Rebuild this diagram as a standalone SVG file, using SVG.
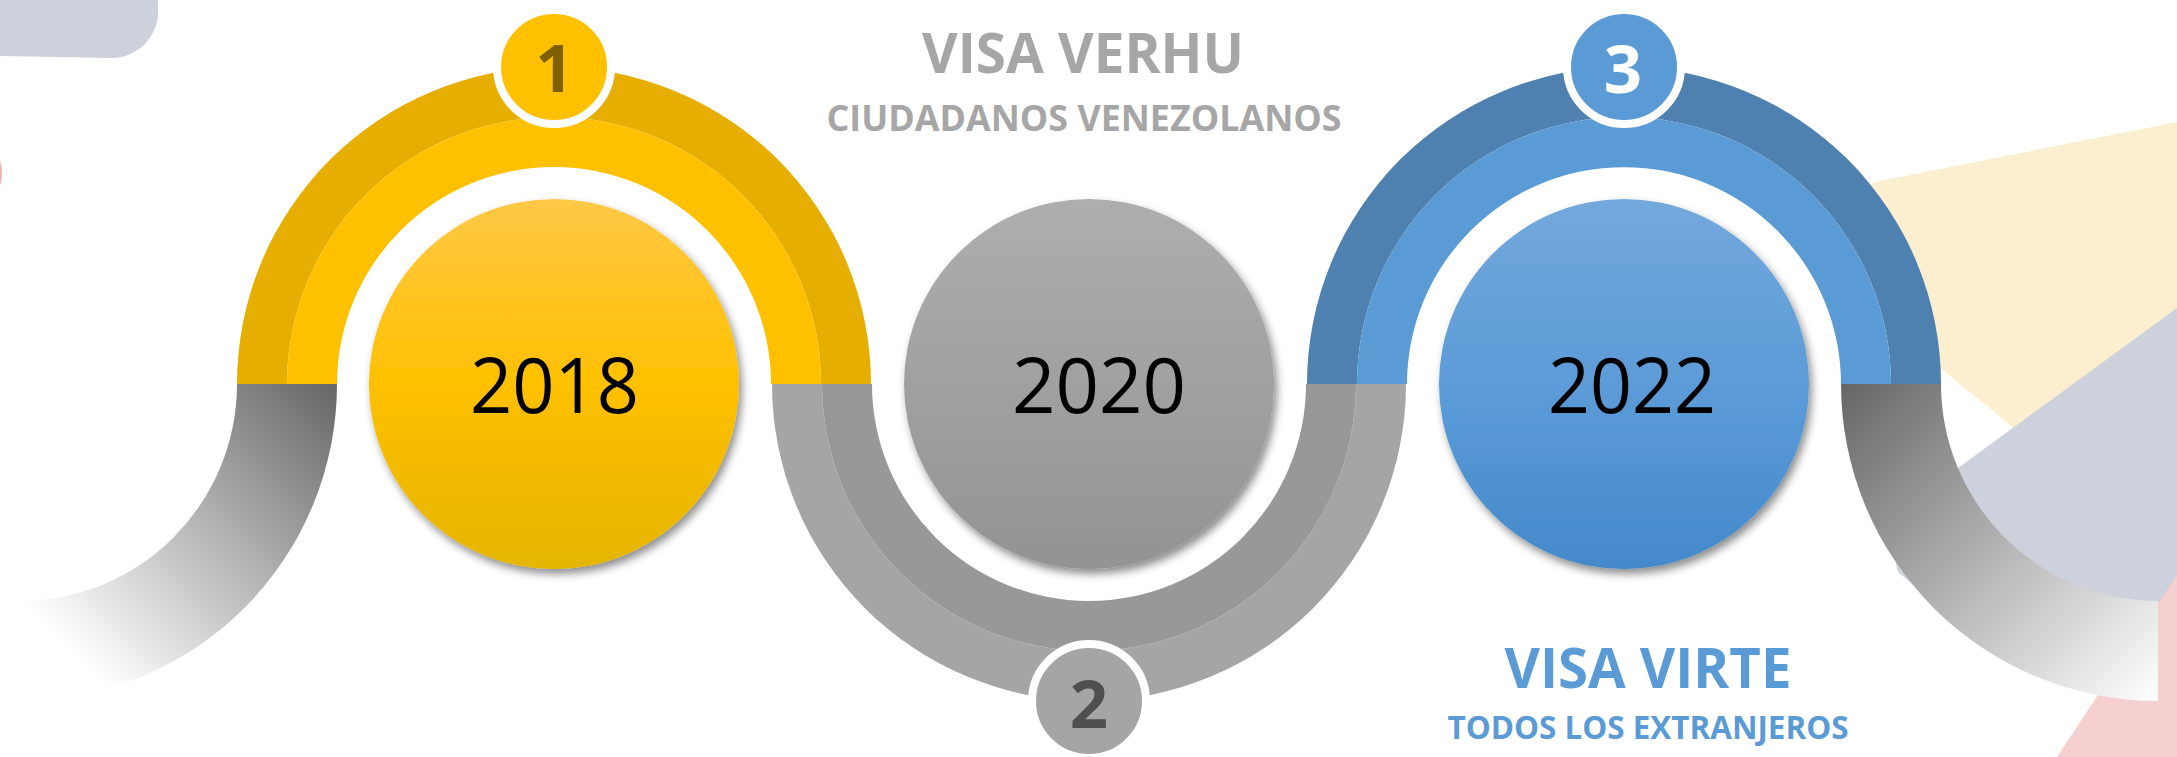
<svg xmlns="http://www.w3.org/2000/svg" width="2177" height="757" viewBox="0 0 2177 757">
<style>
.num{font-family:"Open Sans","Noto Sans","Liberation Sans",sans-serif;font-weight:700;font-size:67px;text-anchor:middle}
.year{font-family:"Open Sans","Noto Sans","Liberation Sans",sans-serif;font-weight:400;font-size:77px;text-anchor:middle;fill:#000}
.title{font-family:"Open Sans","Noto Sans","Liberation Sans",sans-serif;font-weight:700;text-anchor:middle}
.badge{stroke:#fff;stroke-width:8}
</style>
<defs>
<linearGradient id="gY" x1="0" y1="0" x2="0" y2="1"><stop offset="0" stop-color="#FFC846"/><stop offset="0.5" stop-color="#FFC000"/><stop offset="1" stop-color="#E5B500"/></linearGradient>
<linearGradient id="gG" x1="0" y1="0" x2="0" y2="1"><stop offset="0" stop-color="#AEAEAE"/><stop offset="1" stop-color="#939393"/></linearGradient>
<linearGradient id="gB" x1="0" y1="0" x2="0" y2="1"><stop offset="0" stop-color="#73A8DC"/><stop offset="0.55" stop-color="#5A9AD7"/><stop offset="1" stop-color="#4489CA"/></linearGradient>
<linearGradient id="gL" gradientUnits="userSpaceOnUse" x1="337" y1="384" x2="70" y2="650"><stop offset="0" stop-color="#666"/><stop offset="1" stop-color="#fff"/></linearGradient>
<linearGradient id="gR" gradientUnits="userSpaceOnUse" x1="1841" y1="384" x2="2158" y2="700"><stop offset="0" stop-color="#666"/><stop offset="1" stop-color="#fff"/></linearGradient>
<filter id="sh" x="-20%" y="-20%" width="140%" height="140%"><feDropShadow dx="3" dy="5" stdDeviation="4" flood-color="#000" flood-opacity="0.45"/></filter>
</defs>
<rect width="2177" height="757" fill="#fff"/>
<g id="background">
<path d="M0,0 L158,0 L158,12 C158,37 137,58 112,58 L0,56 Z" fill="#CDD1DB"/>
<circle cx="-40" cy="173" r="42" fill="#F3B4B4"/>
<path d="M1868,192 Q1866,184 1880,181 L2177,122 L2177,560 L1925,356 Z" fill="#FBEFD0"/>
<path d="M2177,308 L1958,468 L1915,500 Q1886,532 1898,572 L1965,628 L2060,680 L2177,640 Z" fill="#CDD1DB"/>
<path d="M2177,575 L2057,757 L2177,757 Z" fill="#F6D0D0"/>
</g>
<g id="connectors">
<path d="M337,384 A317,317 0 0 1 20,701 L20,601 A217,217 0 0 0 237,384 Z" fill="url(#gL)"/>
<path d="M1841,384 A317,317 0 0 0 2158,701 L2158,601 A217,217 0 0 1 1941,384 Z" fill="url(#gR)"/>
<path d="M237,384 A317,317 0 0 1 871,384 L821,384 A267,267 0 0 0 287,384 Z" fill="#E6AE00"/>
<path d="M287,384 A267,267 0 0 1 821,384 L771,384 A217,217 0 0 0 337,384 Z" fill="#FFC000"/>
<path d="M772,384 A317,317 0 0 0 1406,384 L1356,384 A267,267 0 0 1 822,384 Z" fill="#A5A5A5"/>
<path d="M822,384 A267,267 0 0 0 1356,384 L1306,384 A217,217 0 0 1 872,384 Z" fill="#989898"/>
<path d="M1307,384 A317,317 0 0 1 1941,384 L1891,384 A267,267 0 0 0 1357,384 Z" fill="#4E80B0"/>
<path d="M1357,384 A267,267 0 0 1 1891,384 L1841,384 A217,217 0 0 0 1407,384 Z" fill="#5B9BD5"/>
</g>
<g id="node-2018">
<circle cx="554" cy="384" r="185" fill="url(#gY)" filter="url(#sh)"/>
<text class="year" x="554.5" y="413" textLength="169" lengthAdjust="spacingAndGlyphs">2018</text>
</g>
<g id="node-2020">
<circle cx="1089" cy="384" r="185" fill="url(#gG)" filter="url(#sh)"/>
<text class="year" x="1099" y="413" textLength="174" lengthAdjust="spacingAndGlyphs">2020</text>
</g>
<g id="node-2022">
<circle cx="1624" cy="384" r="185" fill="url(#gB)" filter="url(#sh)"/>
<text class="year" x="1632" y="413" textLength="168" lengthAdjust="spacingAndGlyphs">2022</text>
</g>
<g id="badge-1">
<circle class="badge" cx="554" cy="67" r="57" fill="#FFC000"/>
<text class="num" x="554.5" y="92" fill="#7F6000">1</text>
</g>
<g id="badge-2">
<circle class="badge" cx="1089" cy="701" r="57" fill="#A5A5A5"/>
<text class="num" x="1089" y="728" fill="#4F4F4F">2</text>
</g>
<g id="badge-3">
<circle class="badge" cx="1624" cy="67" r="57" fill="#5B9BD5"/>
<text class="num" x="1623" y="93" fill="#fff">3</text>
</g>
<g id="label-verhu">
<text class="title" x="1083" y="73" font-size="56" fill="#A6A6A6" textLength="322" lengthAdjust="spacingAndGlyphs">VISA VERHU</text>
<text class="title" x="1084" y="131" font-size="35" fill="#A6A6A6" textLength="515" lengthAdjust="spacingAndGlyphs">CIUDADANOS VENEZOLANOS</text>
</g>
<g id="label-virte">
<text class="title" x="1648" y="688" font-size="56" fill="#5B9BD5" textLength="287" lengthAdjust="spacingAndGlyphs">VISA VIRTE</text>
<text class="title" x="1648" y="739" font-size="31.5" fill="#5B9BD5" textLength="401" lengthAdjust="spacingAndGlyphs">TODOS LOS EXTRANJEROS</text>
</g>
</svg>
